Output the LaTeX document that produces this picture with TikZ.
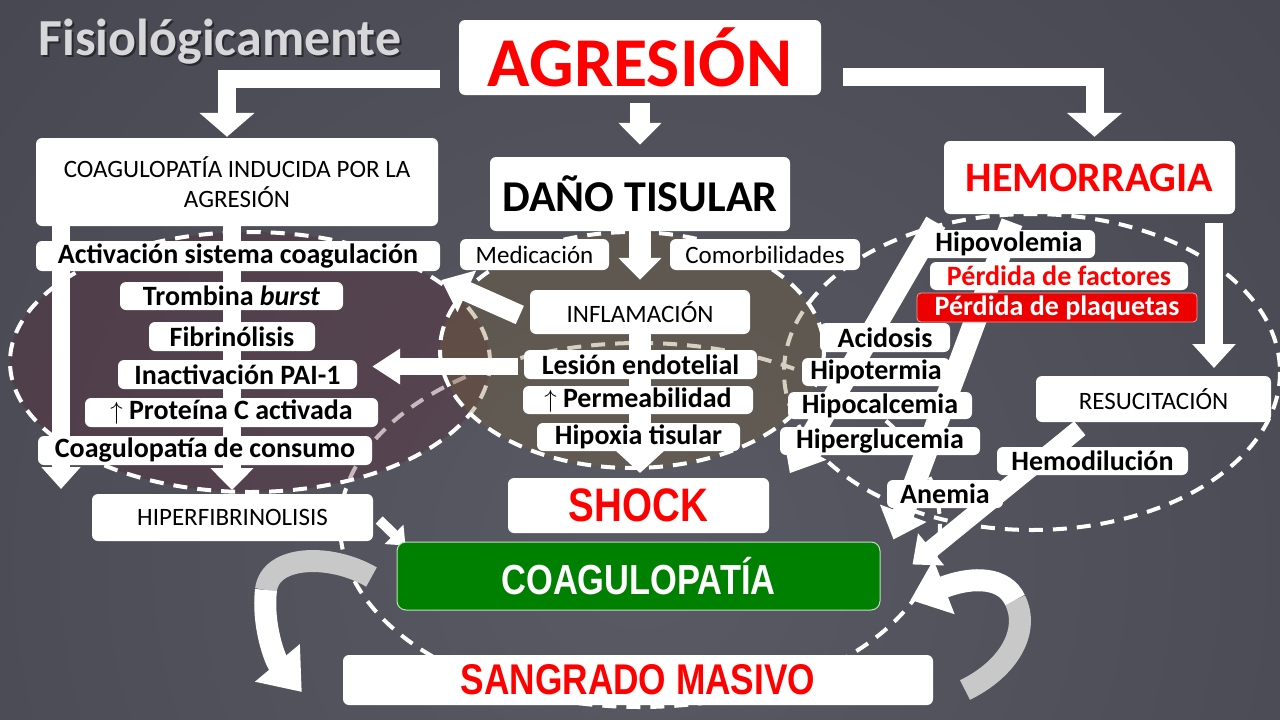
\documentclass[tikz,border=0pt]{standalone}
\usepackage{fontspec}
\setmainfont{Carlito}
\newfontfamily\narrowfont[FakeStretch=0.82]{Liberation Sans}
\usetikzlibrary{arrows.meta,calc}

\definecolor{bgout}{RGB}{62,62,72}
\definecolor{bgin}{RGB}{90,90,100}
\definecolor{redtext}{RGB}{255,0,0}
\definecolor{coagreen}{RGB}{0,128,0}
\definecolor{plaqred}{RGB}{236,0,0}
\definecolor{lfill}{RGB}{88,36,50}
\definecolor{mfill}{RGB}{122,100,52}
\definecolor{titlegray}{RGB}{215,215,218}
\definecolor{backgray}{RGB}{200,200,200}

\pgfdeclarelayer{ground}
\pgfdeclarelayer{arrowlayer}
\pgfsetlayers{ground,arrowlayer,main}

\tikzset{
  wbox/.style={fill=white, rounded corners=6pt, inner sep=0pt, align=center, text=black},
  bsmall/.style={wbox, font=\fontsize{28}{30}\selectfont\bfseries},
  rsmall/.style={wbox, font=\fontsize{25}{30}\selectfont},
  bignarrow/.style={wbox, font=\narrowfont\bfseries\fontsize{45}{50}\selectfont},
  blk/.style={color=white, line width=18pt, -{Triangle[width=54pt,length=24pt]}},
  ring/.style={draw=white, line width=4pt, dash pattern=on 14pt off 10pt},
}

\begin{document}
\begin{tikzpicture}[x=1pt,y=-1pt]
\useasboundingbox (0,0) rectangle (1280,720);

% title
\node[anchor=base west, text=black, opacity=.45, font=\fontsize{52}{56}\selectfont\bfseries] (titleshadow) at (37,57) {Fisiológicamente};
\node[anchor=base west, text=titlegray, font=\fontsize{52}{56}\selectfont\bfseries] (title) at (35,55) {Fisiológicamente};

% main boxes
\node[wbox, minimum width=362pt, minimum height=75pt, text=redtext, font=\fontsize{70}{74}\selectfont\bfseries] (agresion) at (640,57.5) {AGRESIÓN};
\node[wbox, minimum width=402pt, minimum height=88pt, font=\fontsize{25}{30}\selectfont] (coaginduc) at (237,182) {COAGULOPATÍA INDUCIDA POR LA\\AGRESIÓN};
\node[wbox, minimum width=300pt, minimum height=74pt, font=\fontsize{44}{48}\selectfont\bfseries] (dano) at (640,194) {DAÑO TISULAR};
\node[wbox, minimum width=291pt, minimum height=73pt, text=redtext, font=\fontsize{42}{46}\selectfont\bfseries] (hemorragia) at (1089.5,177.5) {HEMORRAGIA};

% left group
\node[bsmall, minimum width=404pt, minimum height=30pt] (activ) at (238,256) {Activación sistema coagulación};
\node[bsmall, minimum width=223pt, minimum height=28pt] (trombina) at (231.5,296) {Trombina \textit{burst}};
\node[bsmall, minimum width=166pt, minimum height=29pt] (fibrino) at (232,336.5) {Fibrinólisis};
\node[bsmall, minimum width=239pt, minimum height=29pt] (inactiv) at (237.5,374.5) {Inactivación PAI-1};
\node[bsmall, minimum width=293pt, minimum height=29pt] (proteina) at (231.5,412.5) {$\uparrow$ Proteína C activada};
\node[bsmall, minimum width=334pt, minimum height=29pt] (consumo) at (205,450.5) {Coagulopatía de consumo};
\node[rsmall, minimum width=281pt, minimum height=47pt] (hiperfib) at (232.5,517.5) {HIPERFIBRINOLISIS};

% middle group
\node[rsmall, minimum width=149pt, minimum height=31pt] (medic) at (534.5,254.5) {Medicación};
\node[rsmall, minimum width=190pt, minimum height=31pt] (comorb) at (765,254.5) {Comorbilidades};
\node[rsmall, minimum width=220pt, minimum height=44pt] (inflam) at (640,312) {INFLAMACIÓN};
\node[bsmall, minimum width=233pt, minimum height=29pt] (lesion) at (640.5,364.5) {Lesión endotelial};
\node[bsmall, minimum width=230pt, minimum height=28pt] (permea) at (638,400) {$\uparrow$ Permeabilidad};
\node[bsmall, minimum width=203pt, minimum height=28pt] (hipoxia) at (638.5,437) {Hipoxia tisular};

% right group
\node[bsmall, minimum width=172pt, minimum height=28pt] (hipovol) at (1009,244) {Hipovolemia};
\node[bsmall, minimum width=258pt, minimum height=28pt, text=redtext] (perdfac) at (1059,276) {Pérdida de factores};
\node[bsmall, minimum width=280pt, minimum height=29pt, fill=plaqred, draw=white!60!plaqred, line width=.8pt, rounded corners=4pt, text=white] (perdplaq) at (1057,307.5) {Pérdida de plaquetas};
\node[bsmall, minimum width=130pt, minimum height=29pt] (acidosis) at (885,337.5) {Acidosis};
\node[bsmall, minimum width=148pt, minimum height=28pt] (hipoterm) at (876,372) {Hipotermia};
\node[bsmall, minimum width=184pt, minimum height=27pt] (hipocalc) at (880,405.5) {Hipocalcemia};
\node[bsmall, minimum width=200pt, minimum height=28pt] (hipergluc) at (880,441) {Hiperglucemia};
\node[rsmall, minimum width=235pt, minimum height=46pt] (resuc) at (1153.5,399) {RESUCITACIÓN};
\node[bsmall, minimum width=191pt, minimum height=28pt] (hemodil) at (1092.5,461) {Hemodilución};
\node[bsmall, minimum width=116pt, minimum height=28pt] (anemia) at (945,494) {Anemia};

% bottom
\node[bignarrow, minimum width=261pt, minimum height=55pt, text=redtext, font=\narrowfont\bfseries\fontsize{47}{50}\selectfont] (shock) at (638.5,505.5) {SHOCK};
\node[bignarrow, minimum width=483pt, minimum height=68pt, fill=coagreen, draw=white!75!coagreen, line width=1pt, rounded corners=9pt, text=white, font=\narrowfont\bfseries\fontsize{42}{46}\selectfont] (coagul) at (638.5,576) {COAGULOPATÍA};
\node[bignarrow, minimum width=590pt, minimum height=50pt, text=redtext, font=\narrowfont\bfseries\fontsize{43}{46}\selectfont] (sangrado) at (638,680) {SANGRADO MASIVO};

% background and dashed groups
\begin{pgfonlayer}{ground}
\begin{scope}
\clip (0,0) rectangle (1280,720);
\shade[inner color=bgin, outer color=bgout] (640,560) circle[radius=1300];
\end{scope}
\draw[ring] (640,525) ellipse[x radius=300, y radius=182];
\draw[ring, fill=lfill, fill opacity=.32] (250,362) ellipse[x radius=240, y radius=130];
\draw[ring] (1032,372) ellipse[x radius=248, y radius=158];
\draw[ring, fill=mfill, fill opacity=.3] (632,350) ellipse[x radius=192, y radius=118];
\end{pgfonlayer}

% free ends of the arrows
\coordinate (coltipa) at (61,489);
\coordinate (coltipb) at (232,490);
\coordinate (shocktip) at (640,473);
\coordinate (resuctip) at (1214,368);
\coordinate (lca) at ($(coagul.west)+(-25,1)$);
\coordinate (lcb) at (266,590);
\coordinate (lcc) at ($(sangrado.west)+(-41,12)$);
\coordinate (rca) at (965,690);
\coordinate (rcb) at (1015,600);
\coordinate (rcc) at ($(coagul.east)+(30,24)$);

% arrows
\begin{pgfonlayer}{arrowlayer}
\draw[blk] ($(agresion.west)+(-19,21)$) -| ($(coaginduc.north)+(-10,-1)$);
\draw[blk] ($(agresion.east)+(22,19)$) -| ($(hemorragia.north)+(5,-4)$);
\draw[blk, line width=20pt, -{Triangle[width=42pt,length=22pt]}] ($(agresion.south)+(0,8)$) -- ($(dano.north)+(0,-12)$);
\draw[blk, -{Triangle[width=38pt,length=22pt]}] (coaginduc.south -| coltipa) -- (coltipa);
\draw[blk, -{Triangle[width=42pt,length=22pt]}] (coaginduc.south -| coltipb) -- (coltipb);
\draw[blk, line width=22pt, -{Triangle[width=42pt,length=22pt]}] (dano.south) -- ($(inflam.north)+(0,-10)$);
\draw[blk, line width=22pt, -{Triangle[width=70pt,length=33pt]}] (inflam.south) -- (shocktip);
\draw[blk, line width=20pt, -{Triangle[width=44pt,length=28pt]}] ($(inflam.west)+(-10,3)$) -- ($(activ.east)+(1,24)$);
\draw[blk, line width=17pt, -{Triangle[width=34pt,length=28pt]}] ($(lesion.west)+(-6,2)$) -- ($(inactiv.east)+(15,-8)$);
\draw[blk, line width=10pt, -{Triangle[width=26pt,length=16pt]}] ($(hiperfib.east)+(6,2.5)$) -- ($(coagul.north west)+(9,4)$);
\draw[blk, shorten <=9pt, -{Triangle[width=42pt,length=24pt]}] (hemorragia.south -| resuctip) -- (resuctip);
\draw[blk, line width=22pt, -{Triangle[width=48pt,length=30pt]}] ($(hemorragia.south west)+(-8,8)$) -- ($(hipergluc.south west)+(10,18)$);
\draw[blk, line width=22pt, -{Triangle[width=48pt,length=28pt]}] ($(hemorragia.south)+(-77.5,8)$) -- ($(coagul.north east)+(13,-2)$);
\draw[blk, line width=18pt, -{Triangle[width=40pt,length=24pt]}] ($(resuc.south west)+(44,6)$) -- ($(coagul.north east)+(32,23)$);
% loop between coagulopatia and sangrado
\draw[line width=22pt, backgray] (lca) .. controls (330,553) and (270,555) .. (lcb);
\draw[blk, line width=22pt, -{Triangle[width=56pt,length=38pt]}] (lcb) .. controls (262,625) and (275,660) .. (lcc);
\draw[line width=22pt, backgray] (rca) .. controls (1010,668) and (1030,630) .. (rcb);
\draw[blk, line width=22pt, -{Triangle[width=56pt,length=36pt]}] (rcb) .. controls (1005,578) and (975,575) .. (rcc);
\end{pgfonlayer}

\end{tikzpicture}
\end{document}
